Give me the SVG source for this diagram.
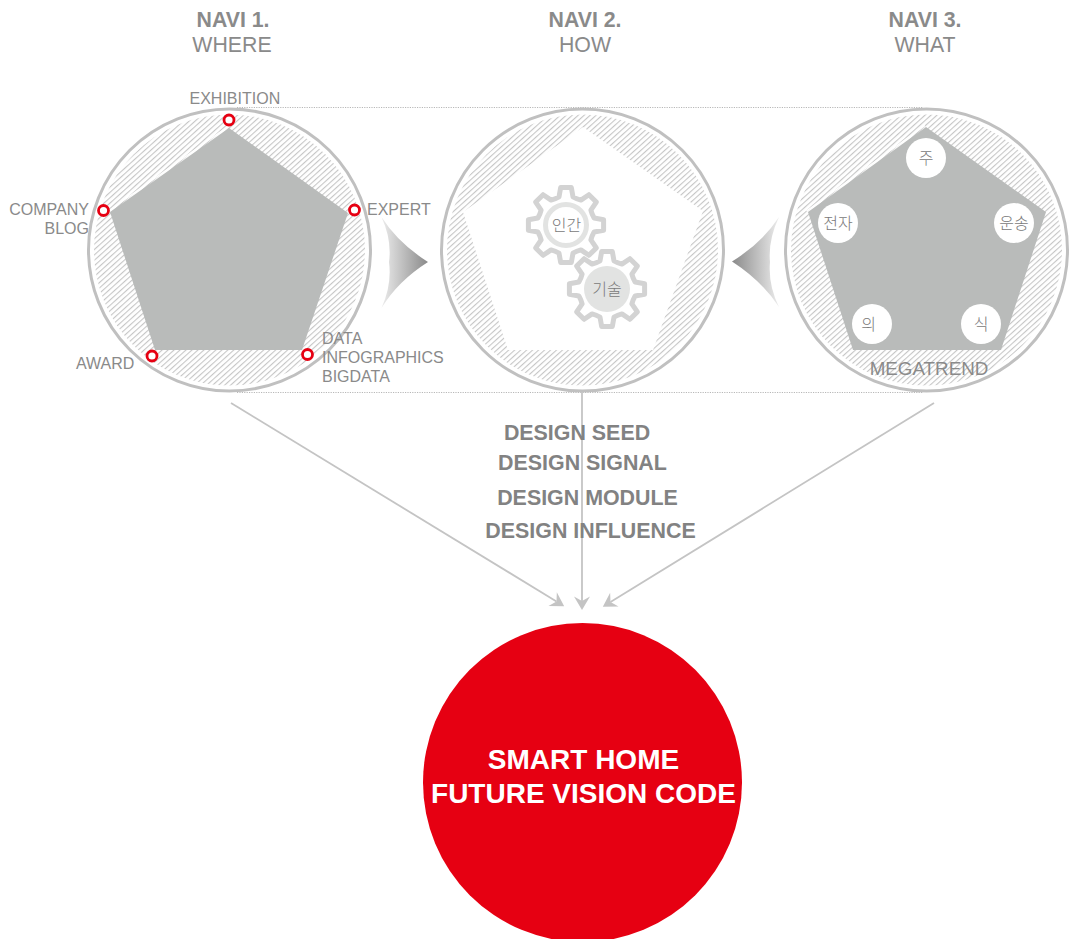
<svg xmlns="http://www.w3.org/2000/svg" width="1070" height="939" viewBox="0 0 1070 939">
<style>
text{font-family:"Liberation Sans",Arial,sans-serif;fill:#8a8a8a}
.hd{font-size:21.300px;text-anchor:middle}
.b{font-weight:bold}
.l{font-size:16px}
.end{text-anchor:end}
.ds{font-size:21.400px;font-weight:bold;text-anchor:middle;fill:#828282}
.ko{font-family:"Noto Sans CJK KR","Liberation Sans",sans-serif;font-size:16px;text-anchor:middle;fill:#7a7a7a;font-weight:300}
.ring{fill:#fff;stroke:#c0c0c0;stroke-width:3}
.hatch{fill:url(#h)}
.pent{fill:#b9bbba}
.dot{fill:#fff;stroke:#e60012;stroke-width:2.800}
.w{fill:#fff}
.gear{fill:#fff;stroke:#d3d3d3;stroke-width:5;stroke-linejoin:round}
.conn{stroke:#c4c4c4;stroke-width:1.800;fill:none;marker-end:url(#a)}
.dash{stroke:#b8b8b8;stroke-width:1;stroke-dasharray:1.200 1.200;fill:none}
.edge{stroke:#fff;stroke-width:1.500;fill:none}
.title{font-size:28px;font-weight:bold;text-anchor:middle;fill:#fff}
</style>
<defs>
<pattern id="h" width="4" height="4" patternUnits="userSpaceOnUse" patternTransform="rotate(-42)">
<rect width="4" height="4" fill="#fff"/>
<rect width="4" height="1.100" fill="#c6c6c6"/>
</pattern>
<linearGradient id="gr" x1="0" x2="1" y1="0" y2="0"><stop offset="0" stop-color="#ececec"/><stop offset="1" stop-color="#8a8a8a"/></linearGradient>
<linearGradient id="gl" x1="1" x2="0" y1="0" y2="0"><stop offset="0" stop-color="#ececec"/><stop offset="1" stop-color="#8a8a8a"/></linearGradient>
<marker id="a" markerUnits="userSpaceOnUse" markerWidth="16" markerHeight="18" viewBox="-14 -9 15 18" refX="-9" refY="0" orient="auto"><path d="M-13.500-8L0 0L-13.500 8L-9 0Z" fill="#c4c4c4"/></marker>
<path id="gearp" d="M7-28.100L5.300-37.600L-5.300-37.600L-7-28.100A29 29 0 0 1-14.900-24.900L-22.900-30.300L-30.300-22.900L-24.900-14.900A29 29 0 0 1-28.100-7L-37.600-5.300L-37.600 5.300L-28.100 7A29 29 0 0 1-24.900 14.900L-30.300 22.900L-22.900 30.300L-14.900 24.900A29 29 0 0 1-7 28.100L-5.300 37.600L5.300 37.600L7 28.100A29 29 0 0 1 14.900 24.900L22.900 30.300L30.300 22.900L24.900 14.900A29 29 0 0 1 28.100 7L37.600 5.300L37.600-5.300L28.100-7A29 29 0 0 1 24.900-14.900L30.300-22.900L22.900-30.300L14.900-24.900A29 29 0 0 1 7-28.100Z"/>
</defs>

<g id="guides">
<path class="dash" d="M237 107.500H923M237 392.500H923"/>
</g>

<g id="navi1">
<circle class="ring" cx="229.500" cy="250" r="141"/>
<circle class="hatch" cx="229.500" cy="250" r="135.500"/>
<path class="edge" d="M108.500 211L228 126.500"/>
<polygon class="pent" points="229,128 348,213 302,350 155,350 110,212"/>
<circle class="dot" cx="229" cy="120" r="5"/>
<circle class="dot" cx="354.500" cy="210" r="5"/>
<circle class="dot" cx="307.500" cy="354.500" r="5"/>
<circle class="dot" cx="152" cy="356" r="5"/>
<circle class="dot" cx="103.500" cy="210.500" r="5"/>
<text class="hd b" x="233" y="27">NAVI 1.</text>
<text class="hd" x="232" y="52">WHERE</text>
<text class="l" x="189.500" y="104">EXHIBITION</text>
<text class="l end" x="89" y="215">COMPANY</text>
<text class="l end" x="89" y="234">BLOG</text>
<text class="l" x="367" y="215">EXPERT</text>
<text class="l" x="76" y="369">AWARD</text>
<text class="l" x="322" y="344">DATA</text>
<text class="l" x="322" y="363">INFOGRAPHICS</text>
<text class="l" x="322" y="382">BIGDATA</text>
</g>

<g id="arrow-right"><path d="M381.500 217Q398 243 428 262Q398 281 381.500 308Q392 285 389 262Q392 240 381.500 217Z" fill="url(#gr)"/></g>

<g id="navi2">
<circle class="ring" cx="582.500" cy="250" r="141"/>
<circle class="hatch" cx="582.500" cy="250" r="135.500"/>
<polygon class="w" points="583,127 703,211 653,350 508,350 463,212"/>
<g id="gear-human">
<use href="#gearp" class="gear" x="566" y="225"/>
<circle cx="566" cy="225" r="20.500" fill="#fff" stroke="#e2e3e2" stroke-width="5"/>
<text class="ko" x="566.500" y="230.500">인간</text>
</g>
<g id="gear-tech">
<use href="#gearp" class="gear" x="607" y="289"/>
<circle cx="607" cy="289" r="23" fill="#e2e3e2"/>
<text class="ko" x="607" y="294.500">기술</text>
</g>
<text class="hd b" x="585" y="27">NAVI 2.</text>
<text class="hd" x="585" y="52">HOW</text>
</g>

<g id="arrow-left"><path d="M779 217Q762 243 732 261.500Q762 281 779 307Q768 285 770 262Q768 240 779 217Z" fill="url(#gl)"/></g>

<g id="navi3">
<circle class="ring" cx="926.500" cy="250" r="141"/>
<circle class="hatch" cx="926.500" cy="250" r="135.500"/>
<path class="edge" d="M806.500 211L925 125.500"/>
<polygon class="pent" points="926,127 1046,212 1001,350 853,350 808,212"/>
<circle class="w" cx="926" cy="158" r="20"/><text class="ko" x="926" y="163.500">주</text>
<circle class="w" cx="1014" cy="223" r="20"/><text class="ko" x="1014" y="228.500">운송</text>
<circle class="w" cx="981" cy="324" r="20"/><text class="ko" x="981" y="329.500">식</text>
<circle class="w" cx="872" cy="324" r="20"/><text class="ko" x="868.500" y="329.500">의</text>
<circle class="w" cx="838" cy="223" r="20"/><text class="ko" x="838" y="228.500">전자</text>
<text x="929" y="375" font-size="18.800" text-anchor="middle">MEGATREND</text>
<text class="hd b" x="925" y="27">NAVI 3.</text>
<text class="hd" x="925" y="52">WHAT</text>
</g>

<g id="connectors">
<path class="conn" d="M231 403L556.500 601.500"/>
<path class="conn" d="M582 392V601"/>
<path class="conn" d="M934 403L610.500 602"/>
</g>

<g id="seeds">
<text class="ds" x="577" y="440">DESIGN SEED</text>
<text class="ds" x="582.500" y="470">DESIGN SIGNAL</text>
<text class="ds" x="587.500" y="505">DESIGN MODULE</text>
<text class="ds" x="590.500" y="538">DESIGN INFLUENCE</text>
</g>

<g id="vision">
<circle cx="582.500" cy="782.500" r="159.500" fill="#e60012"/>
<text class="title" x="583.500" y="769">SMART HOME</text>
<text class="title" x="583.500" y="803">FUTURE VISION CODE</text>
</g>
</svg>
